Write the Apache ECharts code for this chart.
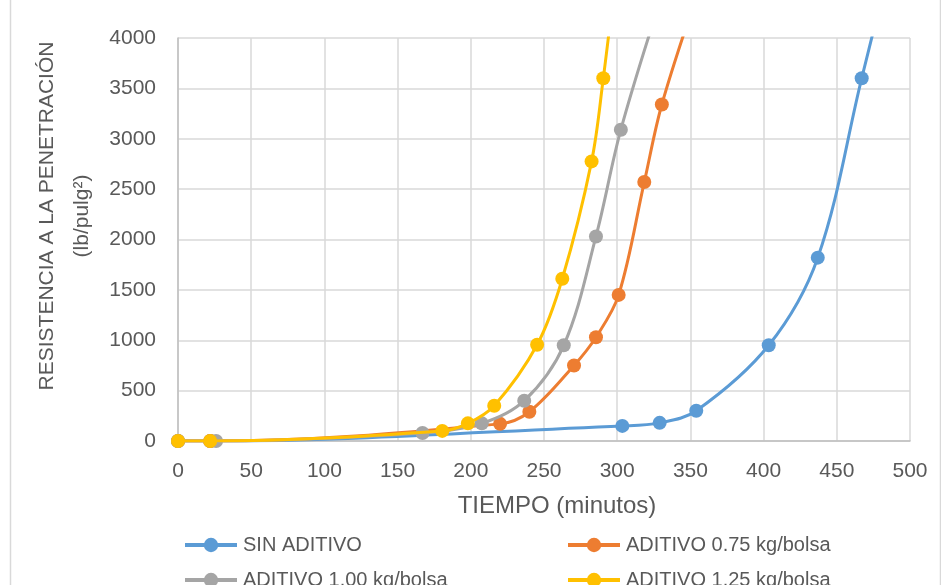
<!DOCTYPE html>
<html>
<head>
<meta charset="utf-8">
<script src="https://cdn.jsdelivr.net/npm/echarts@6/dist/echarts.min.js"></script>
<style>
html,body{margin:0;padding:0;background:#fff;}
#chart{width:941px;height:585px;}
</style>
</head>
<body>
<div id="chart"></div>
<script>
// ---- data ----
var seriesNames = ['SIN ADITIVO', 'ADITIVO 0.75 kg/bolsa', 'ADITIVO 1.00 kg/bolsa', 'ADITIVO 1.25 kg/bolsa'];
var sinX = [0, 22, 303.5, 329, 354, 403.5, 437, 467, 485];
var sinY = [0, 0, 150, 180, 300, 950, 1820, 3600, 4650];
var a075X = [0, 22, 220, 240, 270.5, 285.5, 301, 318.5, 330.5, 355];
var a075Y = [0, 0, 170, 290, 750, 1030, 1450, 2570, 3340, 4450];
var a100X = [0, 26, 167, 207.5, 236.5, 263.5, 285.5, 302.5, 330];
var a100Y = [0, 0, 80, 175, 400, 950, 2030, 3090, 4400];
var a125X = [0, 22, 180.5, 198, 216, 245.3, 262.5, 282.5, 290.5, 298];
var a125Y = [0, 0, 100, 175, 350, 955, 1610, 2775, 3600, 4500];
var xTitle = 'TIEMPO (minutos)';
var yTitle1 = 'RESISTENCIA A LA PENETRACIÓN';
var yTitle2 = '(lb/pulg²)';

var colors = ['#5B9BD5', '#ED7D31', '#A5A5A5', '#FFC000'];
function zip(xs, ys) { return xs.map(function (x, i) { return [x, ys[i]]; }); }
var allData = [zip(sinX, sinY), zip(a075X, a075Y), zip(a100X, a100Y), zip(a125X, a125Y)];

var font = '"Liberation Sans", Arial, sans-serif';
var txtColor = '#595959';

var series = allData.map(function (d, i) {
  return {
    name: seriesNames[i],
    type: 'line',
    data: d,
    smooth: 0.35,
    clip: true,
    symbol: 'circle',
    symbolSize: 14,
    showAllSymbol: true,
    color: colors[i],
    lineStyle: { width: 3, color: colors[i] },
    itemStyle: { color: colors[i] },
    emphasis: { disabled: true },
    z: 2 + i
  };
});

var legendPos = [[178, 530], [561, 530], [178, 565], [561, 565]];
var legends = seriesNames.map(function (n, i) {
  return {
    data: [{ name: n, itemStyle: { color: colors[i] }, lineStyle: { width: 4, color: colors[i] } }],
    left: legendPos[i][0],
    top: legendPos[i][1],
    itemWidth: 52,
    itemHeight: 18,
    itemGap: 0,
    selectedMode: false,
    textStyle: { fontFamily: font, fontSize: 20, color: txtColor, padding: [0, 0, 0, 1] }
  };
});

var chart = echarts.init(document.getElementById('chart'), null, { renderer: 'canvas' });
chart.setOption({
  animation: false,
  backgroundColor: '#fff',
  grid: { left: 178, right: 31, top: 38, bottom: 144, containLabel: false },
  xAxis: {
    type: 'value', min: 0, max: 500, interval: 50,
    axisLine: { show: true, lineStyle: { color: '#BFBFBF', width: 1.5 } },
    axisTick: { show: false },
    axisLabel: { fontFamily: font, fontSize: 21, color: txtColor, margin: 20 },
    splitLine: { show: true, lineStyle: { color: '#D9D9D9', width: 1.5 } }
  },
  yAxis: {
    type: 'value', min: 0, max: 4000, interval: 500,
    axisLine: { show: true, lineStyle: { color: '#BFBFBF', width: 1.5 } },
    axisTick: { show: false },
    axisLabel: { fontFamily: font, fontSize: 21, color: txtColor, margin: 22, formatter: function (v) { return String(v); } },
    splitLine: { show: true, lineStyle: { color: '#D9D9D9', width: 1.5 } }
  },
  legend: legends,
  graphic: [
    { type: 'rect', left: 8, top: -5, shape: { width: 930, height: 600 }, style: { fill: 'none', stroke: '#D9D9D9', lineWidth: 1.5 }, silent: true, z: -1 },
    { type: 'text', x: 557, y: 506, style: { text: xTitle, fontFamily: font, fontSize: 24, fill: txtColor, align: 'center', verticalAlign: 'middle' } },
    { type: 'text', x: 65, y: 216, rotation: Math.PI / 2, style: { text: yTitle1 + '\n' + yTitle2, fontFamily: font, fontSize: 21, lineHeight: 35, fill: txtColor, align: 'center', verticalAlign: 'middle' } }
  ],
  series: series
});
</script>
</body>
</html>
